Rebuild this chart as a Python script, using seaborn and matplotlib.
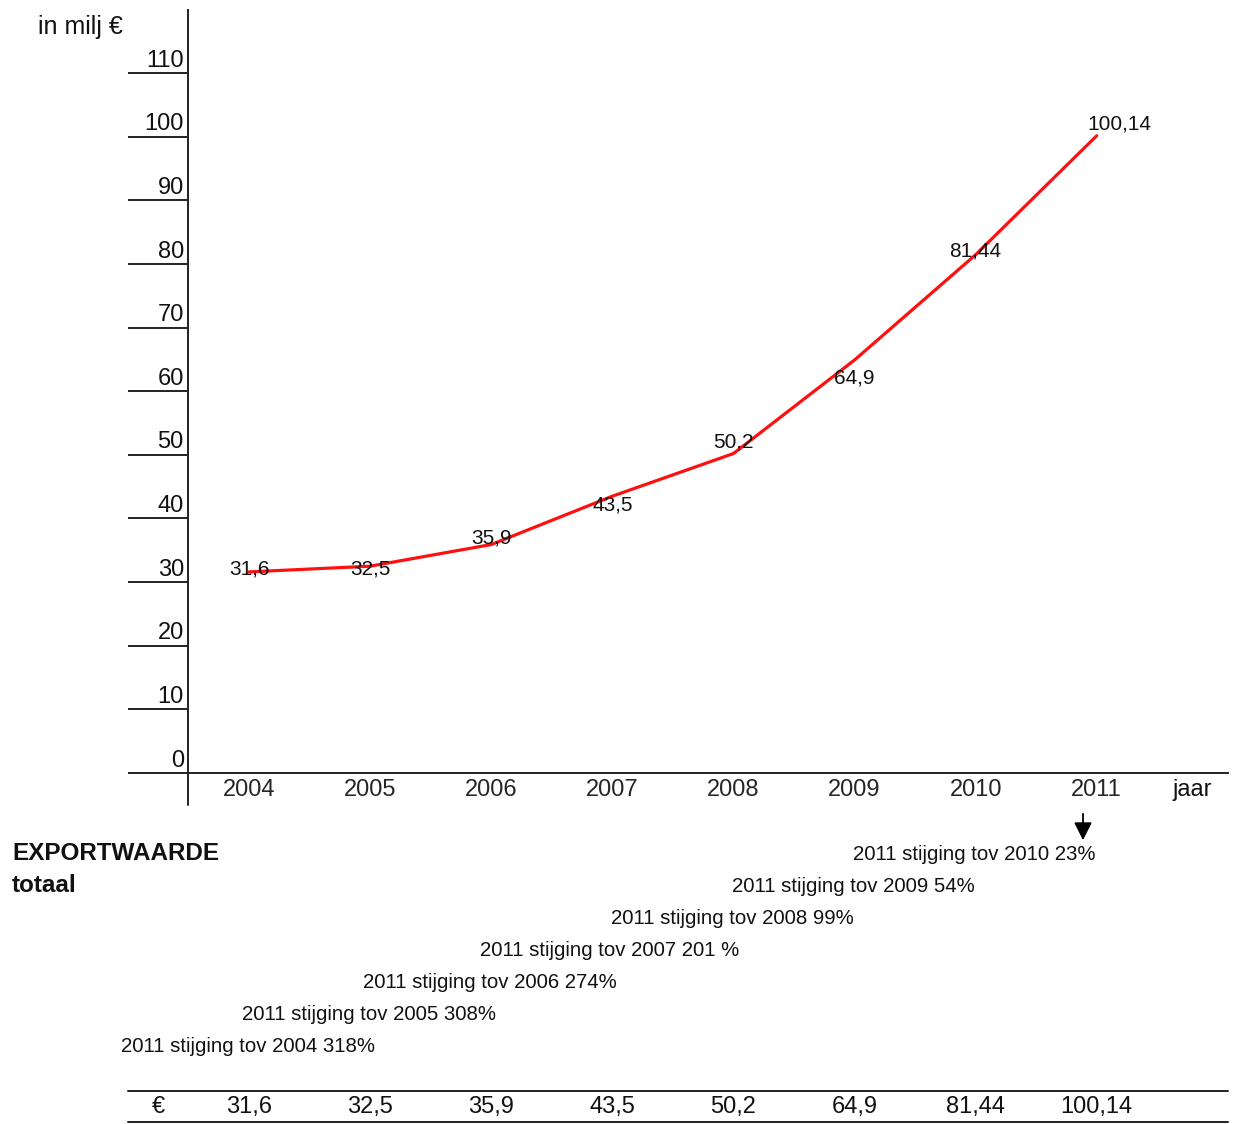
import matplotlib
matplotlib.use('Agg')
import seaborn as sns
import matplotlib.pyplot as plt
import matplotlib.transforms as mtransforms
import pandas as pd

# Gegevens: exportwaarde totaal (in miljoen euro)
jaren = ['2004', '2005', '2006', '2007', '2008', '2009', '2010', '2011']
waarden = [31.6, 32.5, 35.9, 43.5, 50.2, 64.9, 81.44, 100.14]
y_ticks = [0, 10, 20, 30, 40, 50, 60, 70, 80, 90, 100, 110]

# stijging 2011 t.o.v. eerdere jaren
vergelijk_jaren = ['2010', '2009', '2008', '2007', '2006', '2005', '2004']
stijging = ['23%', '54%', '99%', '201 %', '274%', '308%', '318%']

# verschuiving van de labels bij de punten (pixels)
label_dx = [0, 0, 0, 0, 0, 0, 0, 23]
label_dy = [3, -3, 7, -9, 12, -18, 4, 12]

W, H = 1234, 1124
FONT = ['Liberation Sans', 'DejaVu Sans']

sns.set_style('white')
plt.rcParams['font.family'] = FONT
plt.rcParams['text.color'] = '#111111'


def px(x, y):
    # pixelpositie -> figuurcoördinaten
    return x / W, 1 - y / H


fig = plt.figure(figsize=(W / 100, H / 100), dpi=100)
ax = fig.add_axes([188 / W, 1 - 773 / H, (1228 - 188) / W, (773 - 10) / H])

df = pd.DataFrame({'x': range(len(jaren)), 'waarde': waarden})
sns.lineplot(data=df, x='x', y='waarde', ax=ax, color='#ff1010', linewidth=2.3)

ax.set_xlim(-0.504, 8.084)
ax.set_ylim(0, 119.9)

for s in ['top', 'right']:
    ax.spines[s].set_visible(False)
for s in ['left', 'bottom']:
    ax.spines[s].set_color('#222222')
    ax.spines[s].set_linewidth(1.4)

# y-as: lange streepjes links van de as, getallen erboven
ax.set_yticks(y_ticks)
ax.set_yticklabels([])
ax.tick_params(axis='y', direction='out', length=60 * 0.72, width=1.4,
               color='#222222', left=True)
for t in y_ticks:
    ax.annotate(str(t), xy=(0, t), xycoords=('axes fraction', 'data'),
                xytext=(-3, 1), textcoords='offset points',
                ha='right', va='bottom', fontsize=17)

# x-as
ax.set_xticks(range(len(jaren)))
ax.set_xticklabels(jaren, fontsize=17)
ax.tick_params(axis='x', length=0, pad=4)
ax.set_xlabel('')
ax.set_ylabel('')

# verlengde van de y-as onder de x-as
ax.plot([0, 0], [0, -32 / 763], transform=ax.transAxes, color='#222222',
        linewidth=1.4, clip_on=False)

# labels bij de punten
for i, v in enumerate(waarden):
    ax.annotate(f'{v:g}'.replace('.', ','), xy=(i, v),
                xytext=(label_dx[i] * 0.72, label_dy[i] * 0.72),
                textcoords='offset points', ha='center', va='center',
                fontsize=15)

fig.text(*px(38, 27), 'in milj €', ha='left', va='center', fontsize=18)
fig.text(*px(1172, 790), 'jaar', ha='left', va='center', fontsize=17)

fig.text(*px(12, 853), 'EXPORTWAARDE', ha='left', va='center',
         fontsize=17.5, fontweight='bold')
fig.text(*px(12, 885), 'totaal', ha='left', va='center',
         fontsize=17.5, fontweight='bold')

# pijl onder 2011
ax.annotate('', xy=px(1083, 843), xycoords='figure fraction',
            xytext=px(1083, 811), textcoords='figure fraction',
            arrowprops=dict(arrowstyle='-|>,head_length=0.6,head_width=0.3',
                            color='black', lw=1.3, mutation_scale=18))

# stijgingsregels
links = [853, 732, 611, 480, 363, 242, 121]
for k, (jr, pct) in enumerate(zip(vergelijk_jaren, stijging)):
    fig.text(*px(links[k], 855 + 32 * k), f'2011 stijging tov {jr} {pct}',
             ha='left', va='center', fontsize=14.7)

# tabel onderaan
for yl in [1091, 1122]:
    fig.add_artist(plt.Line2D([128 / W, 1228 / W], [1 - yl / H] * 2,
                              transform=fig.transFigure, color='#222222',
                              linewidth=1.4))
fig.text(*px(158, 1107), '€', ha='center', va='center', fontsize=17)
tabel_trans = mtransforms.blended_transform_factory(ax.transData, fig.transFigure)
for i, v in enumerate(waarden):
    ax.text(i, 1 - 1107 / H, f'{v:g}'.replace('.', ','), transform=tabel_trans,
            ha='center', va='center', fontsize=17, clip_on=False)

fig.savefig('out.png', dpi=100)
